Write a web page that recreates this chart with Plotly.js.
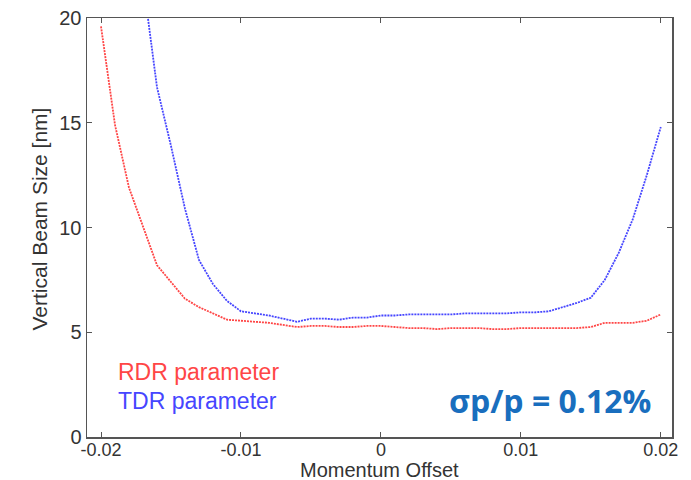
<!DOCTYPE html>
<html><head><meta charset="utf-8">
<script src="https://cdn.plot.ly/plotly-3.0.1.min.js"></script>
<style>html,body{margin:0;padding:0;background:#fff}#chart{width:691px;height:480px}</style>
</head><body><div id="chart"></div>
<script>
const xRDR = [-0.020,-0.019,-0.018,-0.017,-0.016,-0.015,-0.014,-0.013,-0.012,-0.011,-0.010,-0.009,-0.008,-0.007,-0.006,-0.005,-0.004,-0.003,-0.002,-0.001,0,0.001,0.002,0.003,0.004,0.005,0.006,0.007,0.008,0.009,0.010,0.011,0.012,0.013,0.014,0.015,0.016,0.017,0.018,0.019,0.020];
const yRDR = [19.6,14.9,11.9,10.0,8.2,7.4,6.6,6.2,5.9,5.6,5.55,5.5,5.45,5.35,5.25,5.3,5.3,5.25,5.25,5.3,5.3,5.25,5.2,5.2,5.15,5.2,5.2,5.2,5.15,5.15,5.2,5.2,5.2,5.2,5.2,5.25,5.45,5.45,5.45,5.55,5.85];
const xTDR = [-0.017,-0.016,-0.015,-0.014,-0.013,-0.012,-0.011,-0.010,-0.009,-0.008,-0.007,-0.006,-0.005,-0.004,-0.003,-0.002,-0.001,0,0.001,0.002,0.003,0.004,0.005,0.006,0.007,0.008,0.009,0.010,0.011,0.012,0.013,0.014,0.015,0.016,0.017,0.018,0.019,0.020];
const yTDR = [21.8,16.7,13.9,10.9,8.45,7.3,6.5,6.0,5.9,5.8,5.65,5.5,5.65,5.65,5.6,5.7,5.7,5.8,5.8,5.85,5.85,5.85,5.85,5.9,5.9,5.9,5.9,5.95,5.95,6.0,6.2,6.4,6.65,7.5,8.8,10.4,12.5,14.8];
const xTickVals = [-0.02,-0.01,0,0.01,0.02];
const xTickText = ["-0.02","-0.01","0","0.01","0.02"];
const yTickVals = [0,5,10,15,20];
const seriesNames = ["RDR parameter","TDR parameter"];
const xTitle = "Momentum Offset";
const yTitle = "Vertical Beam Size [nm]";
const noteText = "σp/p = 0.12%";

const red = "rgb(255,70,70)", blue = "rgb(70,70,255)";
const font = "Liberation Sans, Arial";
const traces = [
  {x:xRDR, y:yRDR, type:"scatter", mode:"lines", name:seriesNames[0], line:{color:red, width:1.8, dash:"2px,1px"}, showlegend:false},
  {x:xTDR, y:yTDR, type:"scatter", mode:"lines", name:seriesNames[1], line:{color:blue, width:1.8, dash:"2px,1px"}, showlegend:false}
];
const axisCommon = {showgrid:false, zeroline:false, showline:true, linecolor:"#555", linewidth:1.5, mirror:"ticks", ticks:"inside", ticklen:5, tickcolor:"#555", automargin:false};
const layout = {
  width:691, height:480, margin:{l:87, r:19, t:18, b:43},
  paper_bgcolor:"#fff", plot_bgcolor:"#fff",
  xaxis:Object.assign({}, axisCommon, {range:[-0.021,0.0208], tickvals:xTickVals, ticktext:xTickText,
    tickfont:{family:font, size:18, color:"#333"}, ticklabelstandoff:-4}),
  yaxis:Object.assign({}, axisCommon, {range:[0,20], tickvals:yTickVals,
    tickfont:{family:font, size:20, color:"#333"}}),
  annotations:[
    {xref:"paper", yref:"paper", x:0.5, y:0, yshift:-33, xanchor:"center", yanchor:"middle", showarrow:false, text:xTitle, font:{family:font, size:20, color:"#333"}},
    {xref:"paper", yref:"paper", x:0, y:0.5, xshift:-48, yshift:8, xanchor:"center", yanchor:"middle", textangle:-90, showarrow:false, text:yTitle, font:{family:font, size:21, color:"#333"}},
    {xref:"paper", yref:"paper", x:0.05, y:0.155, xanchor:"left", yanchor:"middle", showarrow:false, text:seriesNames[0], font:{family:font, size:23, color:red}},
    {xref:"paper", yref:"paper", x:0.05, y:0.085, xanchor:"left", yanchor:"middle", showarrow:false, text:seriesNames[1], font:{family:font, size:23, color:blue}},
    {xref:"paper", yref:"paper", x:0.967, y:0.088, xanchor:"right", yanchor:"middle", showarrow:false, text:"<b>"+noteText+"</b>", font:{family:"Open Sans, Lato", size:32, color:"rgb(25,110,190)"}}
  ]
};
Plotly.newPlot("chart", traces, layout, {displayModeBar:false, staticPlot:true});
</script></body></html>
